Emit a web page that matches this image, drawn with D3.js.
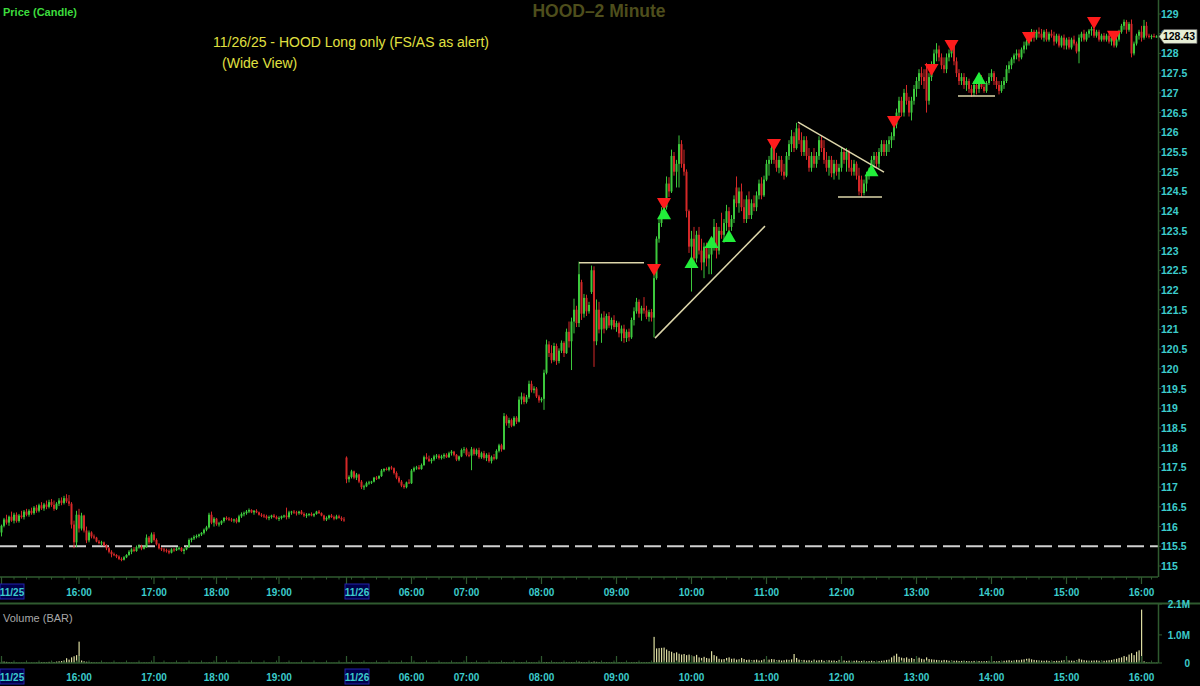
<!DOCTYPE html>
<html><head><meta charset="utf-8">
<script src="https://cdn.jsdelivr.net/npm/d3@7"></script>
<style>html,body{margin:0;padding:0;background:#000;}svg{display:block}</style>
</head><body>
<script>
// ---- DATA ----
// OHLC per 2-minute bar: [open, high, low, close]
const session1125 = [
[115.85,116.05,115.75,116.02],[116.02,116.22,115.98,116.18],[116.18,116.30,116.05,116.10],[116.10,116.28,116.02,116.25],
[116.25,116.38,116.12,116.15],[116.15,116.35,116.08,116.30],[116.30,116.36,116.10,116.14],[116.14,116.32,116.10,116.28],
[116.28,116.40,116.20,116.24],[116.24,116.42,116.18,116.38],[116.38,116.45,116.26,116.30],[116.30,116.44,116.25,116.40],
[116.40,116.48,116.30,116.34],[116.34,116.52,116.30,116.48],[116.48,116.55,116.35,116.40],[116.40,116.58,116.36,116.54],
[116.54,116.62,116.42,116.46],[116.46,116.60,116.40,116.56],[116.56,116.66,116.44,116.50],[116.50,116.68,116.46,116.62],
[116.62,116.70,116.50,116.55],[116.55,116.66,116.40,116.45],[116.45,116.62,116.42,116.58],[116.58,116.72,116.52,116.66],
[116.66,116.74,116.54,116.60],[116.60,116.78,116.56,116.72],[116.72,116.82,116.60,116.64],[116.64,116.80,116.52,116.58],
[116.58,116.62,115.95,116.05],[116.05,116.15,115.45,115.60],[115.60,116.40,115.48,116.30],[116.30,116.45,115.85,115.95]];
const afterHours1125 = [
[115.95,116.35,115.90,116.28],[116.28,116.30,115.85,115.90],[115.90,116.00,115.58,115.65],[115.65,115.90,115.60,115.85],
[115.85,115.88,115.70,115.75],[115.75,115.80,115.68,115.72],[115.72,115.74,115.60,115.62],[115.62,115.66,115.55,115.58],
[115.58,115.64,115.52,115.60],[115.60,115.62,115.50,115.52],[115.52,115.55,115.40,115.45],[115.45,115.48,115.32,115.36],
[115.36,115.40,115.22,115.30],[115.30,115.34,115.25,115.28],[115.28,115.30,115.20,115.24],[115.24,115.27,115.15,115.18],
[115.18,115.22,115.12,115.16],[115.16,115.25,115.14,115.22],[115.22,115.30,115.20,115.28],[115.28,115.40,115.26,115.36],
[115.36,115.45,115.30,115.42],[115.42,115.48,115.35,115.38],[115.38,115.52,115.36,115.48],[115.48,115.55,115.44,115.50],
[115.50,115.54,115.40,115.44],[115.44,115.52,115.42,115.48],[115.48,115.80,115.46,115.72],[115.72,115.76,115.55,115.60],
[115.60,115.85,115.58,115.80],[115.80,115.86,115.62,115.66],[115.66,115.70,115.52,115.55],[115.55,115.58,115.42,115.45],
[115.45,115.48,115.38,115.42],[115.42,115.46,115.35,115.40],[115.40,115.44,115.34,115.38],[115.38,115.42,115.30,115.34],
[115.34,115.45,115.32,115.42],[115.42,115.46,115.36,115.40],[115.40,115.48,115.38,115.44],[115.44,115.50,115.40,115.46],
[115.46,115.48,115.36,115.38],[115.38,115.45,115.30,115.42],[115.42,115.50,115.40,115.48],[115.48,115.70,115.46,115.66],
[115.66,115.72,115.60,115.70],[115.70,115.78,115.66,115.74],[115.74,115.80,115.70,115.76],[115.76,115.82,115.72,115.80],
[115.80,115.86,115.76,115.84],[115.84,115.95,115.80,115.92],[115.92,116.02,115.88,115.98],[115.98,116.35,115.95,116.30],
[116.30,116.38,116.06,116.10],[116.10,116.24,116.00,116.20],[116.20,116.22,116.02,116.06],[116.06,116.12,116.00,116.08],
[116.08,116.16,116.04,116.14],[116.14,116.24,116.10,116.22],[116.22,116.26,116.16,116.20],[116.20,116.24,116.14,116.18],
[116.18,116.22,116.12,116.16],[116.16,116.20,116.10,116.18],[116.18,116.22,116.08,116.12],[116.12,116.30,116.10,116.26],
[116.26,116.36,116.22,116.32],[116.32,116.38,116.26,116.34],[116.34,116.42,116.30,116.38],[116.38,116.46,116.34,116.42],
[116.42,116.44,116.34,116.36],[116.36,116.42,116.30,116.40],[116.40,116.44,116.34,116.36],[116.36,116.38,116.28,116.30],
[116.30,116.34,116.24,116.28],[116.28,116.32,116.22,116.26],[116.26,116.30,116.18,116.22],[116.22,116.28,116.16,116.24],
[116.24,116.30,116.20,116.28],[116.28,116.32,116.22,116.24],[116.24,116.28,116.18,116.20],[116.20,116.26,116.14,116.22],
[116.22,116.28,116.18,116.26],[116.26,116.30,116.22,116.28],[116.28,116.48,116.18,116.24],[116.24,116.40,116.20,116.36],
[116.36,116.40,116.30,116.38],[116.38,116.42,116.32,116.36],[116.36,116.40,116.28,116.34],[116.34,116.40,116.30,116.38],
[116.38,116.42,116.30,116.32],[116.32,116.36,116.24,116.28],[116.28,116.34,116.22,116.30],[116.30,116.34,116.26,116.32],
[116.32,116.36,116.26,116.28],[116.28,116.34,116.24,116.32],[116.32,116.40,116.30,116.38],[116.38,116.42,116.32,116.34],
[116.34,116.36,116.26,116.28],[116.28,116.30,116.14,116.18],[116.18,116.26,116.14,116.22],[116.22,116.30,116.18,116.28],
[116.28,116.32,116.22,116.24],[116.24,116.28,116.16,116.20],[116.20,116.30,116.18,116.26],[116.26,116.30,116.20,116.22],
[116.22,116.26,116.14,116.18],[116.18,116.24,116.12,116.16]];
const premarket1126 = [
[117.75,117.78,117.10,117.20],[117.20,117.30,117.12,117.26],[117.26,117.44,117.22,117.40],[117.40,117.42,117.20,117.24],
[117.24,117.36,117.18,117.32],[117.32,117.34,117.10,117.14],[117.14,117.18,116.95,117.00],[117.00,117.06,116.93,117.02],
[117.02,117.14,117.00,117.10],[117.10,117.16,117.06,117.12],[117.12,117.16,117.08,117.14],[117.14,117.26,117.12,117.24],
[117.24,117.28,117.18,117.22],[117.22,117.30,117.20,117.28],[117.28,117.46,117.26,117.42],[117.42,117.48,117.38,117.46],
[117.46,117.50,117.42,117.44],[117.44,117.52,117.40,117.50],[117.50,117.54,117.44,117.48],[117.48,117.50,117.32,117.36],
[117.36,117.40,117.20,117.24],[117.24,117.28,117.10,117.14],[117.14,117.18,117.00,117.04],[117.04,117.08,116.96,117.00],
[117.00,117.14,116.97,117.12],[117.12,117.20,117.08,117.10],[117.10,117.46,117.08,117.42],[117.42,117.52,117.38,117.48],
[117.48,117.54,117.44,117.50],[117.50,117.56,117.44,117.46],[117.46,117.60,117.44,117.56],[117.56,117.80,117.54,117.76],
[117.76,117.86,117.70,117.72],[117.72,117.80,117.64,117.66],[117.66,117.74,117.60,117.70],[117.70,117.82,117.66,117.78],
[117.78,117.84,117.72,117.80],[117.80,117.84,117.70,117.74],[117.74,117.82,117.70,117.78],[117.78,117.86,117.72,117.82],
[117.82,117.86,117.74,117.76],[117.76,117.90,117.74,117.86],[117.86,117.94,117.80,117.90],[117.90,117.92,117.78,117.82],
[117.82,117.84,117.66,117.70],[117.70,117.80,117.66,117.78],[117.78,117.98,117.76,117.94],[117.94,118.02,117.86,117.96],
[117.96,118.00,117.78,117.82],[117.82,117.90,117.76,117.80],[117.80,118.02,117.43,117.96],[117.96,118.00,117.80,117.84],
[117.84,117.98,117.80,117.94],[117.94,118.00,117.72,117.76],[117.76,117.90,117.72,117.86],[117.86,117.92,117.70,117.74],
[117.74,117.86,117.66,117.82],[117.82,117.88,117.62,117.66],[117.66,117.80,117.60,117.76],[117.76,117.84,117.68,117.72],
[117.72,117.96,117.70,117.92],[117.92,118.10,117.88,118.06],[118.06,118.10,117.90,117.96],[117.96,118.88,117.94,118.80],
[118.80,118.84,118.56,118.62],[118.62,118.76,118.50,118.70],[118.70,118.74,118.52,118.56],[118.56,118.80,118.54,118.76],
[118.76,118.80,118.60,118.66],[118.66,119.30,118.64,119.22],[119.22,119.40,119.10,119.30],[119.30,119.38,119.10,119.16],
[119.16,119.34,119.12,119.28],[119.28,119.70,119.24,119.62],[119.62,119.70,119.40,119.46],[119.46,119.56,119.38,119.50],
[119.50,119.54,119.26,119.30],[119.30,119.34,119.14,119.20],[119.20,119.28,119.15,119.24],[119.24,119.98,118.96,119.90],
[119.90,120.74,119.86,120.62],[120.62,120.70,120.30,120.40],[120.40,120.60,120.14,120.22],[120.22,120.66,120.18,120.58],
[120.58,120.64,120.10,120.20],[120.20,120.52,120.14,120.46],[120.46,120.72,120.40,120.66],[120.66,120.70,120.30,120.40],
[120.40,121.02,120.38,120.94],[120.94,121.20,120.54,120.70],[120.70,121.30,119.97,121.20],[121.20,121.78,120.90,121.50],
[121.50,121.60,121.06,121.16],[121.16,122.72,121.06,122.40],[122.20,122.26,121.24,121.40],[121.40,121.90,121.30,121.80],
[121.80,121.88,121.34,121.46],[121.46,121.70,121.40,121.62],[121.95,122.62,121.90,122.50],[122.50,122.60,120.05,120.70],
[120.70,121.76,120.60,121.50],[121.50,121.70,120.90,121.00],[121.00,121.40,120.66,121.30],[121.30,121.46,120.90,121.02],
[121.02,121.40,120.98,121.34],[121.34,121.44,121.04,121.10],[121.10,121.30,121.00,121.24],[121.24,121.36,121.00,121.06],
[121.06,121.22,120.94,121.16],[121.16,121.20,120.80,120.90],[120.90,121.10,120.70,121.02],[121.02,121.12,120.66,120.78],
[120.78,121.00,120.68,120.94],[120.94,121.02,120.70,120.80],[120.80,121.30,120.76,121.24],[121.24,121.56,121.10,121.46],
[121.46,121.80,121.40,121.70],[121.70,121.76,121.30,121.40],[121.40,121.60,121.22,121.54],[121.54,121.82,121.40,121.48],
[121.48,121.60,121.26,121.32],[121.32,121.50,121.20,121.44],[121.44,121.52,121.20,121.30]];
const regular1126 = [
[121.30,122.40,120.80,122.30],[122.30,123.36,122.26,123.30],[123.30,123.80,123.20,123.70],[123.70,124.10,123.60,124.00],
[124.00,124.20,123.80,124.10],[124.10,124.88,124.04,124.70],[124.70,124.86,124.36,124.50],[124.50,125.56,124.46,125.40],
[125.40,125.50,124.90,125.00],[125.00,125.30,124.60,125.20],[125.20,125.92,124.60,125.70],[125.70,125.80,125.10,125.20],
[125.20,125.56,124.90,125.00],[125.00,125.06,123.84,124.00],[124.00,124.04,122.94,123.10],[123.10,123.50,121.96,123.30],
[123.30,123.60,122.60,122.80],[122.80,123.50,122.70,123.40],[123.40,123.60,122.90,123.00],[123.00,123.30,122.50,122.70],
[122.70,123.20,122.30,123.10],[123.10,123.20,122.60,122.80],[122.80,123.10,122.40,122.90],[122.90,123.30,122.40,123.20],
[123.20,123.80,123.00,123.60],[123.60,123.70,122.80,123.00],[123.00,123.60,122.90,123.50],[123.50,123.96,123.30,123.40],
[123.40,123.80,123.20,123.70],[123.70,124.16,123.50,124.00],[124.00,124.10,123.40,123.60],[123.60,123.90,123.50,123.80],
[123.80,124.40,123.70,124.30],[124.60,124.88,124.10,124.20],[124.20,124.60,123.96,124.50],[124.50,124.70,124.00,124.10],
[124.10,124.30,123.70,123.80],[123.80,124.40,123.70,124.30],[124.30,124.50,123.80,123.90],[123.90,124.30,123.80,124.20],
[124.20,124.40,124.00,124.10],[124.10,124.50,124.00,124.40],[124.40,124.80,124.30,124.70],[124.70,124.86,124.30,124.40],
[124.40,124.90,124.36,124.80],[124.80,125.30,124.76,125.20],[125.20,125.40,124.90,125.30],[125.30,125.70,125.20,125.60],
[125.60,125.70,125.20,125.30],[125.30,125.48,125.00,125.10],[125.10,125.40,124.96,125.30],[125.30,125.40,124.90,125.00],
[125.00,125.20,124.80,124.90],[124.90,125.50,124.86,125.40],[125.40,125.80,125.30,125.70],[125.70,126.06,125.50,125.90],
[125.90,126.00,125.50,125.60],[125.60,126.24,125.56,126.10],[126.10,126.20,125.70,125.80],[125.80,126.00,125.40,125.50],
[125.50,125.90,125.40,125.80],[125.80,125.90,125.30,125.40],[125.40,125.60,125.00,125.10],[125.10,125.50,125.00,125.40],
[125.40,125.60,125.10,125.20],[125.20,125.50,125.10,125.40],[125.40,125.90,125.30,125.80],[125.80,125.90,125.50,125.60],
[125.60,125.80,125.20,125.30],[125.30,125.50,125.00,125.10],[125.10,125.40,124.90,125.30],[125.30,125.40,124.86,124.96],
[124.96,125.30,124.80,125.20],[125.20,125.30,124.90,125.00],[125.00,125.20,124.80,125.10],[125.10,125.60,125.00,125.50],
[125.50,125.60,125.20,125.30],[125.30,125.60,125.00,125.50],[125.50,125.56,125.00,125.10],[125.10,125.30,124.90,125.00],
[125.00,125.30,124.90,125.20],[125.20,125.26,124.80,124.90],[124.90,125.10,124.40,124.50],[124.80,124.90,124.36,124.46],
[124.46,124.80,124.40,124.70],[124.70,125.00,124.50,124.90],[124.90,125.10,124.80,125.00],[125.00,125.40,124.90,125.30],
[125.30,125.50,125.10,125.40],[125.40,125.50,125.10,125.20],[125.20,125.60,125.10,125.50],[125.50,125.80,125.40,125.70],
[125.70,125.80,125.40,125.50],[125.50,125.80,125.40,125.70],[125.70,125.90,125.50,125.80],[125.80,126.00,125.60,125.90],
[125.90,126.30,125.80,126.20],[126.20,126.60,126.10,126.50],[126.50,126.90,126.40,126.80],[126.80,126.90,126.40,126.50],
[126.50,127.10,126.40,127.00],[127.00,127.20,126.70,126.80],[126.80,126.90,126.40,126.50],[126.50,126.90,126.30,126.80],
[126.80,127.20,126.70,127.10],[127.10,127.40,126.90,127.30],[127.30,127.60,127.10,127.50],[127.50,127.66,127.20,127.40],
[127.40,127.60,127.10,127.30],[127.60,127.76,126.50,126.80],[126.80,127.50,126.70,127.40],[127.40,127.80,127.30,127.70],
[127.70,128.10,127.60,128.00],[128.00,128.26,127.80,128.10],[128.10,128.20,127.80,127.90],[127.90,128.00,127.60,127.70],
[127.70,127.90,127.50,127.60],[127.60,128.00,127.50,127.90],[127.90,128.10,127.80,128.00],[128.00,128.26,127.90,128.20],
[128.20,128.22,127.70,127.80],[127.80,127.90,127.40,127.50],[127.50,127.60,127.20,127.30],[127.30,127.50,127.20,127.40],
[127.40,127.50,127.10,127.20],[127.20,127.40,127.05,127.30],[127.30,127.36,127.00,127.10],[127.10,127.20,126.90,127.00],
[127.00,127.30,126.92,127.20],[127.20,127.26,126.96,127.10],[127.10,127.50,127.00,127.40],[127.40,127.45,127.10,127.15],
[127.15,127.25,127.00,127.05],[127.05,127.30,127.00,127.25],[127.25,127.50,127.20,127.40],[127.40,127.60,127.30,127.50],
[127.50,127.55,127.20,127.30],[127.30,127.40,127.10,127.20],[127.20,127.30,126.96,127.05],[127.05,127.30,127.00,127.20],
[127.20,127.40,127.10,127.30],[127.30,127.70,127.25,127.60],[127.60,127.80,127.50,127.70],[127.70,127.90,127.60,127.85],
[127.85,128.00,127.75,127.95],[127.95,128.10,127.85,128.00],[128.00,128.10,127.80,127.90],[127.90,128.15,127.85,128.10],
[128.10,128.30,128.00,128.20],[128.20,128.35,128.10,128.30],[128.30,128.50,128.20,128.45],[128.45,128.62,128.30,128.55],
[128.55,128.60,128.30,128.40],[128.40,128.60,128.35,128.55],[128.55,128.66,128.40,128.50],[128.50,128.62,128.35,128.40],
[128.40,128.60,128.30,128.55],[128.55,128.62,128.30,128.35],[128.35,128.55,128.30,128.50],[128.50,128.60,128.40,128.45],
[128.45,128.55,128.20,128.30],[128.30,128.50,128.25,128.45],[128.45,128.50,128.15,128.20],[128.20,128.45,128.15,128.40],
[128.40,128.48,128.10,128.20],[128.20,128.40,128.10,128.35],[128.35,128.42,128.10,128.15],[128.15,128.40,128.10,128.35],
[128.35,128.45,128.20,128.25],[128.25,128.30,128.00,128.05],[128.05,128.48,127.75,128.40],[128.40,128.55,128.30,128.50],
[128.50,128.60,128.30,128.35],[128.35,128.55,128.30,128.50],[128.50,128.62,128.40,128.58],[128.58,128.68,128.45,128.62],
[128.62,128.68,128.40,128.45],[128.45,128.60,128.40,128.55],[128.55,128.60,128.30,128.35],[128.35,128.50,128.30,128.45],
[128.45,128.52,128.30,128.35],[128.35,128.50,128.30,128.45],[128.45,128.50,128.25,128.30],[128.30,128.45,128.20,128.40],
[128.40,128.45,128.15,128.20],[128.20,128.40,128.15,128.35],[128.35,128.60,128.30,128.55],[128.55,128.75,128.50,128.70],
[128.70,128.86,128.60,128.80],[128.80,128.85,128.50,128.60],[128.60,128.80,128.55,128.75],[128.75,128.86,127.90,128.00],
[128.00,128.30,127.95,128.25],[128.25,128.50,128.20,128.45],[128.45,128.60,128.35,128.55],[128.55,128.70,128.30,128.40],
[128.40,128.85,128.35,128.70],[128.70,128.80,128.40,128.45],[128.45,128.50,128.38,128.42],[128.42,128.48,128.36,128.44],
[128.44,128.50,128.40,128.43],[128.43,128.46,128.40,128.43]];

// volume per bar, thousands of shares
const volume1125 = [60,50,40,30,25,15,12,10,12,15,12,10,14,12,16,20,30,35,25,40,45,35,50,60,70,90,170,120,200,240,280,760];
const volumeAH1125 = [90,60,45,30,25,20,18,15,12,14, 12,10,11,9,10,12,8,9,10,11, 9,8,10,12,9,18,14,16,10,9,
 8,9,7,8,10,8,7,9,8,10, 7,8,9,14,10,9,8,7,9,12, 10,18,14,12,9,8,10,9,8,7, 8,9,7,8,10,9,8,7,9,8,
 7,8,6,7,8,9,7,6,8,7, 6,8,14,9,7,6,8,7,6,5, 6,7,5,6,8,7,6,9,8,6, 5,7,6,8,6,9];
const volumePre1126 = [40,20,15,12,10,14,18,12,10,9, 8,10,9,12,10,8,9,7,8,10, 12,10,9,8,14,10,16,12,10,9,
 11,14,12,10,9,11,10,9,12,10, 9,10,11,8,12,10,13,11,15,12, 20,14,12,13,10,11,12,14,10,12,
 15,18,12,30,22,18,15,16,14,20, 22,18,16,25,20,18,16,15,17,30, 35,25,22,24,20,18,22,20,26,24,
 30,26,28,45,34,30,26,28,35,50, 40,32,30,26,28,24,22,25,20,24, 22,20,24,18,26,28,30,24,22,25, 24,28,30];
const volumeReg1126 = [930,520,530,540,550,480,430,400,350,380, 330,300,320,280,300,260,240,290,200,180,
 220,180,160,420,280,240,150,130,140,180, 200,150,160,120,130,180,140,110,120,100,
 110,120,90,100,130,110,120,140,130,100, 110,90,100,120,110,130,320,180,120,100,
 110,90,100,80,120,90,100,110,80,90, 100,85,90,70,110,80,90,75,85,70,
 80,90,70,75,85,60,70,80,65,75, 70,80,90,110,120,200,260,330,220,190,
 170,200,150,180,140,160,190,150,130,200, 140,130,120,110,100,90,110,100,80,90,
 80,85,70,75,80,70,65,60,75,70, 70,60,65,70,60,55,65,60,70,75,
 80,90,100,80,90,110,100,120,130,150, 160,130,110,100,90,85,80,90,75,80,
 70,80,75,90,100,110,90,85,80,100, 150,120,100,90,80,85,90,95,80,85,
 80,90,100,110,130,150,180,200,250,220, 300,350,280,400,450,1900, 60,30,20,15,10,10];

const priceTicks = [115,115.5,116,116.5,117,117.5,118,118.5,119,119.5,120,120.5,121,121.5,122,122.5,123,123.5,124,124.5,125,125.5,126,126.5,127,127.5,128,128.5,129];
const volumeTicks = [0,1000,2100];
const volumeTickLabels = ["0","1.0M","2.1M"];
// time axis: bar index and label
const timeTickBars = [0,31,61,86,111,138,164,186,216,246,276,306,336,366,396,426,456];
const timeTickLabels = ["11/25","16:00","17:00","18:00","19:00","11/26","06:00","07:00","08:00","09:00","10:00","11:00","12:00","13:00","14:00","15:00","16:00"];
// signals: [bar index, price]
const sellSignals = [[261,122.56],[265,124.23],[309,125.73],[357,126.31],[372,127.63],[380,128.24],[411,128.44],[437,128.82],[445,128.47]];
const buySignals = [[265,123.90],[276,122.66],[284,123.17],[291,123.32],[348,124.99],[391,127.33]];
// drawn trend lines: [[bar, price],[bar, price]]
const trendLines = [
 [[231,122.69],[257,122.69]],
 [[261.4,120.78],[305.4,123.62]],
 [[318.6,126.26],[353,124.99]],
 [[334.6,124.36],[352.2,124.36]],
 [[382.6,126.92],[397.4,126.92]]];
const refLevel = 115.5;
const lastPrice = 128.43;

// ---- BUILD ----
const ohlc = [...session1125, ...afterHours1125, ...premarket1126, ...regular1126];
const volumeK = [...volume1125, ...volumeAH1125, ...volumePre1126, ...volumeReg1126];

const W = 1200, H = 686, PR = 1158;
const FONT = "'Liberation Sans', Arial, sans-serif";
const UP = "#3cc83c", DN = "#d42828", CYAN = "#3ccccc", AXIS = "#2f5a2f";

const svg = d3.select("body").append("svg").attr("width", W).attr("height", H);
svg.append("rect").attr("width", W).attr("height", H).attr("fill", "#000");

const x = d3.scaleLinear().domain([0, ohlc.length - 1]).range([1.5, 1.5 + 2.5 * (ohlc.length - 1)]);
const y = d3.scaleLinear().domain([115, 129]).range([566, 14]);
const yv = d3.scaleLinear().domain([0, 2100]).range([663, 604]);

// titles
svg.append("text").attr("x", 3).attr("y", 16).text("Price (Candle)")
  .attr("fill", "#3ddc3d").attr("font-size", 11).attr("font-weight", "bold").attr("font-family", FONT);
svg.append("text").attr("x", 599).attr("y", 17).attr("text-anchor", "middle").text("HOOD\u20132 Minute")
  .attr("fill", "#4e4e1c").attr("font-size", 17.5).attr("font-weight", "bold").attr("font-family", FONT);
svg.append("text").attr("x", 213).attr("y", 47).text("11/26/25 - HOOD Long only (FS/AS as alert)")
  .attr("fill", "#e0e040").attr("font-size", 14).attr("font-family", FONT);
svg.append("text").attr("x", 222).attr("y", 68).text("(Wide View)")
  .attr("fill", "#e0e040").attr("font-size", 14).attr("font-family", FONT);

// reference dashed line
svg.append("line").attr("x1", 0).attr("x2", PR).attr("y1", y(refLevel)).attr("y2", y(refLevel))
  .attr("stroke", "#d0d0d0").attr("stroke-width", 2).attr("stroke-dasharray", "17,6");

// candles
const cg = svg.append("g");
const col = d => d[3] >= d[0] ? UP : DN;
cg.selectAll("line").data(ohlc).join("line")
  .attr("x1", (d, i) => x(i)).attr("x2", (d, i) => x(i))
  .attr("y1", d => y(d[1])).attr("y2", d => y(d[2]))
  .attr("stroke", col).attr("stroke-width", 1);
cg.selectAll("rect").data(ohlc).join("rect")
  .attr("x", (d, i) => x(i) - 1).attr("width", 2)
  .attr("y", d => y(Math.max(d[0], d[3])))
  .attr("height", d => Math.max(1, Math.abs(y(d[0]) - y(d[3]))))
  .attr("fill", col);

// trend lines
svg.append("g").selectAll("line").data(trendLines).join("line")
  .attr("x1", d => x(d[0][0])).attr("y1", d => y(d[0][1]))
  .attr("x2", d => x(d[1][0])).attr("y2", d => y(d[1][1]))
  .attr("stroke", "#ddd6aa").attr("stroke-width", 1.5);

// signals
const tri = d3.symbol().type(d3.symbolTriangle).size(85);
svg.append("g").selectAll("path").data(sellSignals).join("path")
  .attr("d", tri).attr("fill", "#ff1c1c")
  .attr("transform", d => `translate(${x(d[0])},${y(d[1])}) rotate(180)`);
svg.append("g").selectAll("path").data(buySignals).join("path")
  .attr("d", tri).attr("fill", "#22ee3a")
  .attr("transform", d => `translate(${x(d[0])},${y(d[1])})`);

// price axis
svg.append("line").attr("x1", PR + 0.5).attr("x2", PR + 0.5).attr("y1", 0).attr("y2", 577).attr("stroke", AXIS).attr("stroke-width", 1.5);
const pa = svg.append("g");
pa.selectAll("line").data(priceTicks).join("line")
  .attr("x1", PR).attr("x2", PR + 3).attr("y1", d => y(d)).attr("y2", d => y(d)).attr("stroke", AXIS);
pa.selectAll("text").data(priceTicks).join("text")
  .attr("x", PR + 3).attr("y", d => y(d) + 4).text(d => d)
  .attr("fill", CYAN).attr("font-size", 10.5).attr("font-weight", "bold").attr("font-family", FONT);

// last price tag
const ly = y(lastPrice);
svg.append("path").attr("d", `M${PR + 1},${ly} L${PR + 6},${ly - 7} L1197,${ly - 7} L1197,${ly + 7} L${PR + 6},${ly + 7} Z`)
  .attr("fill", "#e6eed6").attr("stroke", "#606060").attr("stroke-width", 0.8);
svg.append("text").attr("x", 1179).attr("y", ly + 4).attr("text-anchor", "middle").text(lastPrice.toFixed(2))
  .attr("fill", "#000").attr("font-size", 10.5).attr("font-weight", "bold").attr("font-family", FONT);

// time axes
function timeAxis(lineY, labelY, tickDir) {
  const g = svg.append("g");
  g.append("line").attr("x1", 0).attr("x2", PR).attr("y1", lineY).attr("y2", lineY).attr("stroke", AXIS).attr("stroke-width", 1.5);
  const minor = d3.range(0, ohlc.length, 5);
  g.selectAll("line.mn").data(minor).join("line").attr("class", "mn")
    .attr("x1", d => x(d)).attr("x2", d => x(d)).attr("y1", lineY).attr("y2", lineY + tickDir * 2.5)
    .attr("stroke", AXIS);
  g.selectAll("line.mj").data(timeTickBars).join("line").attr("class", "mj")
    .attr("x1", d => x(d)).attr("x2", d => x(d)).attr("y1", lineY).attr("y2", lineY + tickDir * 7)
    .attr("stroke", AXIS).attr("stroke-width", 1.2);
  timeTickBars.forEach((b, k) => {
    const lab = timeTickLabels[k];
    const isDate = lab.includes("/");
    if (isDate) {
      g.append("rect").attr("x", x(b) - 1.5).attr("y", labelY - 8).attr("width", 24).attr("height", 15)
        .attr("fill", "#00004a").attr("stroke", "#2222aa");
    }
    g.append("text").attr("x", isDate ? x(b) + 10.5 : x(b)).attr("y", labelY + 4)
      .attr("text-anchor", "middle").text(lab)
      .attr("fill", CYAN).attr("font-size", 10).attr("font-weight", "bold").attr("font-family", FONT);
  });
}
timeAxis(577, 592, 1);
svg.append("line").attr("x1", 0).attr("x2", W).attr("y1", 603.5).attr("y2", 603.5).attr("stroke", AXIS).attr("stroke-width", 2);

// volume panel
svg.append("text").attr("x", 3).attr("y", 622).text("Volume (BAR)")
  .attr("fill", "#a8a8a8").attr("font-size", 11).attr("font-family", FONT);
svg.append("g").selectAll("rect").data(volumeK).join("rect")
  .attr("x", (d, i) => x(i) - 0.5).attr("width", 1.2)
  .attr("y", d => yv(d)).attr("height", d => yv(0) - yv(d))
  .attr("fill", "#dcdca0");
svg.append("line").attr("x1", PR + 0.5).attr("x2", PR + 0.5).attr("y1", 604).attr("y2", 663).attr("stroke", AXIS).attr("stroke-width", 1.5);
const va = svg.append("g");
va.selectAll("line").data(volumeTicks).join("line")
  .attr("x1", PR).attr("x2", PR + 4).attr("y1", d => yv(d)).attr("y2", d => yv(d)).attr("stroke", AXIS);
va.selectAll("text").data(volumeTicks).join("text")
  .attr("x", 1190).attr("y", d => yv(d) + 4).attr("text-anchor", "end").text((d, i) => volumeTickLabels[i])
  .attr("fill", CYAN).attr("font-size", 10).attr("font-weight", "bold").attr("font-family", FONT);
timeAxis(663, 677, -1);
</script>
</body></html>
